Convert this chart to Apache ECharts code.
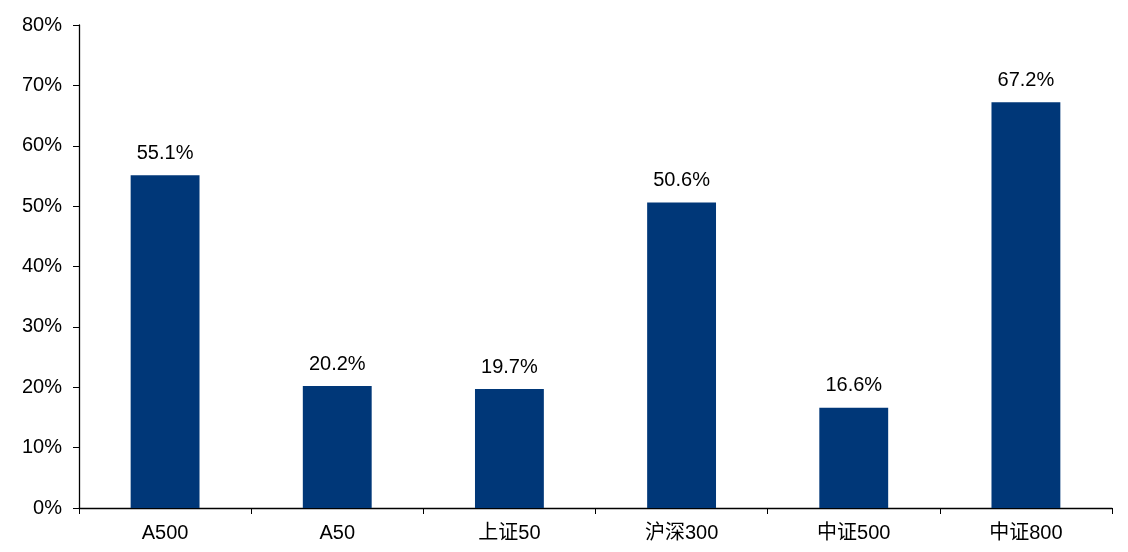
<!DOCTYPE html>
<html><head><meta charset="utf-8">
<script src="https://cdn.jsdelivr.net/npm/echarts@6/dist/echarts.min.js"></script>
<style>html,body{margin:0;padding:0;background:#fff}#c{width:1128px;height:552px}</style>
</head><body><div id="c"></div>
<script>
const categories = ['A500', 'A50', '上证50', '沪深300', '中证500', '中证800'];
const values = [55.1, 20.2, 19.7, 50.6, 16.6, 67.2];
const yTicks = [0, 10, 20, 30, 40, 50, 60, 70, 80];

const chart = echarts.init(document.getElementById('c'));
const font = '"Liberation Sans", Arial, "Noto Sans CJK SC", sans-serif';
chart.setOption({
  animation: false,
  grid: { left: 79, right: 16, top: 25, bottom: 44, containLabel: false },
  xAxis: {
    type: 'category', data: categories,
    axisLine: { lineStyle: { color: '#000', width: 1.3 } },
    axisTick: { show: true, length: 6, lineStyle: { color: '#000' }, alignWithLabel: false },
    axisLabel: { color: '#000', fontSize: 20, fontFamily: font, margin: 15 }
  },
  yAxis: {
    type: 'value', min: yTicks[0], max: yTicks[yTicks.length - 1], interval: 10,
    axisLine: { show: true, lineStyle: { color: '#000', width: 1.3 } },
    axisTick: { show: true, length: 6, lineStyle: { color: '#000' } },
    splitLine: { show: false },
    axisLabel: { color: '#000', fontSize: 20, fontFamily: font, margin: 17, formatter: v => v + '%' }
  },
  series: [{
    type: 'bar', data: values, barWidth: '40%',
    itemStyle: { color: '#003778' },
    label: { show: true, position: 'top', distance: 12, color: '#000', fontSize: 20, fontFamily: font,
      formatter: p => p.value.toFixed(1) + '%' }
  }]
});
</script></body></html>
